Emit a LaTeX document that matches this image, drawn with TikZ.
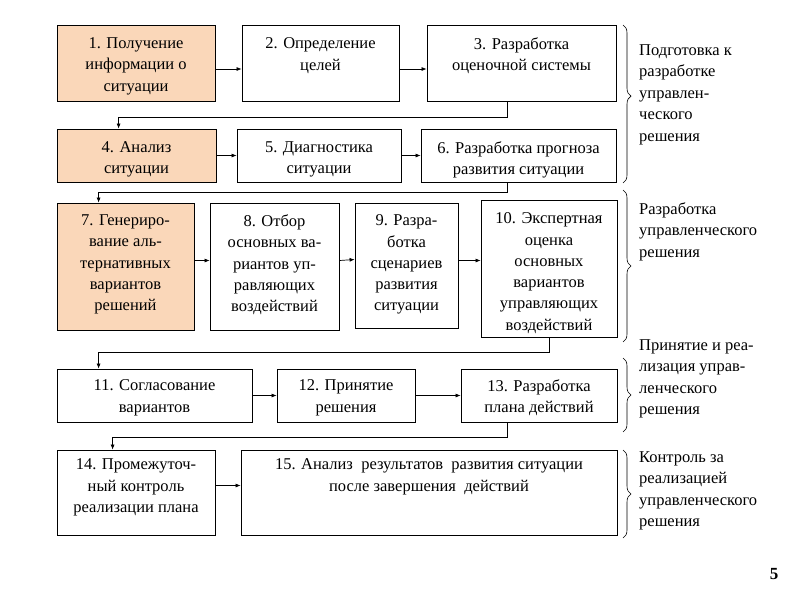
\documentclass[tikz,border=0pt]{standalone}
\usepackage{fontspec}
\setmainfont{Liberation Serif}
\newfontfamily\timescyr{Liberation Serif}
\usetikzlibrary{arrows.meta,decorations.pathreplacing}
\definecolor{peach}{RGB}{250,215,185}
\begin{document}
\begin{tikzpicture}[x=1pt,y=-1pt,
    box/.style={draw, line width=0.8pt, inner sep=0pt},
    hot/.style={box, fill=peach},
    txt/.style={anchor=north, inner sep=0pt, align=center, font=\timescyr\fontsize{16.5}{21.3}\selectfont},
    side/.style={anchor=north west, inner sep=0pt, align=left, font=\timescyr\fontsize{16.5}{21.5}\selectfont},
    arr/.style={line width=0.7pt, -{Latex[length=5pt,width=4pt]}},
    brc/.style={line width=0.6pt, decorate, decoration={brace, amplitude=8pt}}]
    \useasboundingbox (0,0) rectangle (800,600);
    % Row 1
    \node[hot, minimum width=158, minimum height=76] (b1) at (136,63) {};
    \node[box, minimum width=157, minimum height=76] (b2) at (320.5,63) {};
    \node[box, minimum width=189, minimum height=76] (b3) at (521.5,63) {};
    \node[txt] (t1) at ([yshift=-13pt]b1.north) {1. Получение\\информации о\\ситуации};
    \node[txt] (t2) at ([yshift=-13pt]b2.north) {2. Определение\\целей};
    \node[txt] (t3) at ([yshift=-13pt]b3.north) {3. Разработка\\оценочной системы};
    \draw[arr] ([yshift=-6pt]b1.east) -- ([yshift=-6pt]b2.west);
    \draw[arr] ([yshift=-6pt]b2.east) -- ([yshift=-6pt]b3.west);
    % Row 2
    \node[hot, minimum width=159, minimum height=53] (b4) at (136.5,155.5) {};
    \node[box, minimum width=164, minimum height=53] (b5) at (319,155.5) {};
    \node[box, minimum width=195, minimum height=53] (b6) at (518.5,155.5) {};
    \node[txt] (t4) at ([yshift=-13pt]b4.north) {4. Анализ\\ситуации};
    \node[txt] (t5) at ([yshift=-13pt]b5.north) {5. Диагностика\\ситуации};
    \node[txt] (t6) at ([yshift=-13pt]b6.north) {6. Разработка прогноза\\развития ситуации};
    \draw[arr] ([xshift=81pt]b3.south west) -- ++(0,16) -| ([xshift=62pt]b4.north west);
    \draw[arr] (b4) -- (b5);
    \draw[arr] (b5) -- (b6);
    % Row 3
    \node[hot, minimum width=137, minimum height=127] (b7) at (125.5,266.5) {};
    \node[box, minimum width=129, minimum height=127] (b8) at (274.5,266.5) {};
    \node[box, minimum width=103, minimum height=125] (b9) at (406.5,265.5) {};
    \node[box, minimum width=136, minimum height=137] (b10) at (549,268.5) {};
    \node[txt] (t7) at ([yshift=-12pt]b7.north) {7. Генериро-\\вание аль-\\тернативных\\вариантов\\решений};
    \node[txt] (t8) at ([yshift=-12pt]b8.north) {8. Отбор\\основных ва-\\риантов уп-\\равляющих\\воздействий};
    \node[txt] (t9) at ([yshift=-12pt]b9.north) {9. Разра-\\ботка\\сценариев\\развития\\ситуации};
    \node[txt] (t10) at ([yshift=-13pt]b10.north) {10. Экспертная\\оценка\\основных\\вариантов\\управляющих\\воздействий};
    \draw[arr] ([xshift=87pt]b6.south west) -- ++(0,10) -| ([xshift=42pt]b7.north west);
    \draw[arr] ([yshift=6pt]b7.east) -- ([yshift=6pt]b8.west);
    \draw[arr] ([yshift=6pt]b8.east) -- ([yshift=6pt]b9.west);
    \draw[arr] ([yshift=5pt]b9.east) -- ([yshift=5pt]b9.east -| b10.west);
    % Row 4
    \node[box, minimum width=195, minimum height=53] (b11) at (154.5,395.5) {};
    \node[box, minimum width=138, minimum height=53] (b12) at (346,395.5) {};
    \node[box, minimum width=156, minimum height=53] (b13) at (539,395.5) {};
    \node[txt] (t11) at ([yshift=-11pt]b11.north) {11. Согласование\\вариантов};
    \node[txt] (t12) at ([yshift=-11pt]b12.north) {12. Принятие\\решения};
    \node[txt] (t13) at ([yshift=-11pt]b13.north) {13. Разработка\\плана действий};
    \draw[arr] ([xshift=69pt]b10.south west) -- ++(0,15) -| ([xshift=42pt]b11.north west);
    \draw[arr] (b11) -- (b12);
    \draw[arr] (b12) -- (b13);
    % Row 5
    \node[box, minimum width=158, minimum height=85] (b14) at (136,492.5) {};
    \node[box, minimum width=376, minimum height=85] (b15) at (429,492.5) {};
    \node[txt] (t14) at ([yshift=-9pt]b14.north) {14. Промежуточ-\\ный контроль\\реализации плана};
    \node[txt] (t15) at ([yshift=-9pt]b15.north) {15. Анализ \ результатов \ развития ситуации\\после завершения \ действий};
    \draw[arr] ([xshift=47pt]b13.south west) -- ++(0,15) -| ([xshift=56pt]b14.north west);
    \draw[arr] ([yshift=7pt]b14.east) -- ([yshift=7pt]b15.west);
    % Stages
    \draw[brc, decoration={aspect=0.45}] (623,25) -- (623,183);
    \draw[brc] (623,190) -- (623,342);
    \draw[brc] (623,358) -- (623,432);
    \draw[brc] (623,450) -- (623,538);
    \node[side] (s1) at (639,44) {Подготовка к\\разработке\\управлен-\\ческого\\решения};
    \node[side] (s2) at (639,202) {Разработка\\управленческого\\решения};
    \node[side] (s3) at (639,339) {Принятие и реа-\\лизация управ-\\ленческого\\решения};
    \node[side] (s4) at (639,451) {Контроль за\\реализацией\\управленческого\\решения};
    \node[font=\timescyr\fontsize{17}{20}\selectfont\bfseries] (pg) at (774,574) {5};
\end{tikzpicture}
\end{document}
